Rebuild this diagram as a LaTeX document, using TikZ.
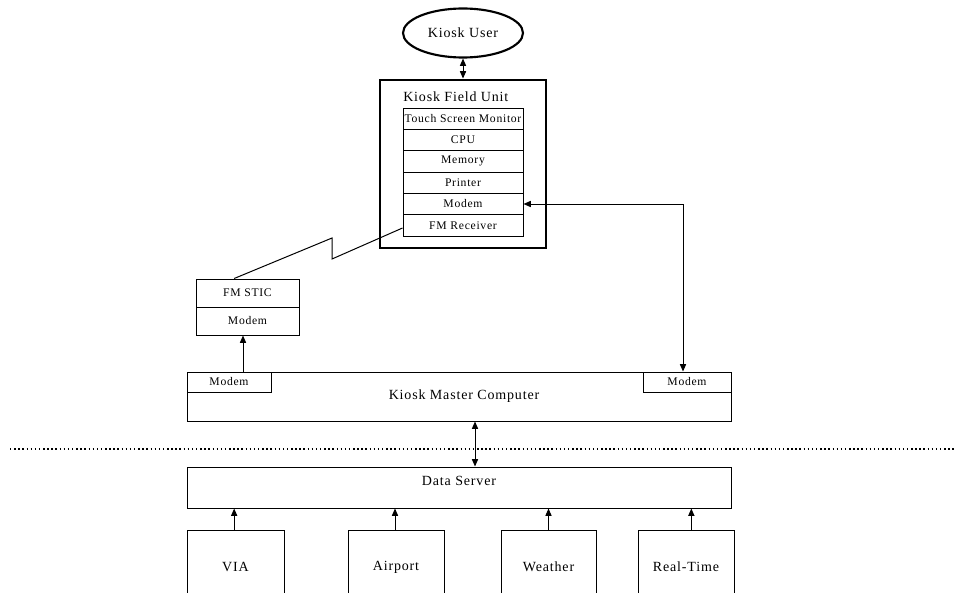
\documentclass[tikz,border=0pt]{standalone}
\usepackage{fontspec}
\setmainfont{Liberation Serif}[LetterSpace=6]
\usetikzlibrary{shapes.geometric,arrows.meta}
\newcommand\mybox[7]{\node[#7, minimum width={(#4-#2)*0.75pt}, minimum height={(#5-#3)*0.75pt}] (#1) at ({(#2+#4)/2},{(#3+#5)/2}) {#6};}
\tikzset{
  bx/.style={draw, line width=0.75pt, inner sep=0pt, rectangle},
  bigf/.style={font=\fontsize{10.5}{12}\selectfont},
  smallf/.style={font=\fontsize{8.75}{10}\selectfont},
  con/.style={line width=0.75pt},
  tip/.style={-{Triangle[length=5.5pt,width=4.6pt]}},
  dtip/.style={{Triangle[length=5.5pt,width=4.6pt]}-{Triangle[length=5.5pt,width=4.6pt]}},
}
\begin{document}
\begin{tikzpicture}[x=0.75pt,y=-0.75pt]
\clip (0,0) rectangle (959,592);
\useasboundingbox (0,0) rectangle (959,592);
% Kiosk User
\node[draw, ellipse, line width=1.6pt, minimum width=120*0.75pt, minimum height=49*0.75pt, inner sep=0pt, bigf] (user) at (463,33) {Kiosk User};
% Field unit
\mybox{fu}{380}{80}{546}{248}{}{draw, line width=2.2pt, inner sep=0pt}
\node[bigf, anchor=west, inner sep=0pt] (futitle) at (403,97) {Kiosk Field Unit};
\mybox{r1}{403}{108}{523}{129.33}{Touch Screen Monitor}{bx,smallf}
\mybox{r2}{403}{129.33}{523}{150.67}{CPU}{bx,smallf}
\mybox{r3}{403}{150.67}{523}{172}{Memory}{bx,smallf}
\mybox{r4}{403}{172}{523}{193.33}{Printer}{bx,smallf}
\mybox{r5}{403}{193.33}{523}{214.67}{Modem}{bx,smallf}
\mybox{r6}{403}{214.67}{523}{236}{FM Receiver}{bx,smallf}
% FM STIC
\mybox{fms}{196}{279}{299}{307}{FM STIC}{bx,smallf}
\mybox{fmm}{196}{307}{299}{335}{Modem}{bx,smallf}
% Kiosk master computer
\mybox{kmc}{187}{372}{731}{421}{}{bx}
\node[bigf, inner sep=0pt] (kmctext) at (464,396) {Kiosk Master Computer};
\mybox{lm}{187}{372}{271}{392}{Modem}{bx,smallf}
\mybox{rm}{643}{372}{731}{392}{Modem}{bx,smallf}
% Data server
\mybox{ds}{187}{467}{731}{508}{}{bx}
\node[bigf, inner sep=0pt] (dstext) at (459,481) {Data Server};
% Sources
\mybox{via}{187}{530}{284}{604}{VIA}{bx,bigf}
\mybox{air}{348}{530}{444}{604}{Airport}{bx,bigf}
\mybox{wea}{501}{530}{596}{604}{Weather}{bx,bigf}
\mybox{rt}{638}{530}{734}{604}{Real-Time}{bx,bigf}
% connectors
\draw[con,dtip] (user) -- (fu.north -| user);
\draw[con,dtip] (r5.east) -| ([xshift=-3pt]rm.north);
\coordinate (z1) at (332,238);
\coordinate (z2) at (332,259);
\draw[con] ([xshift=-10pt]fms.north) -- (z1) -- (z2) -- ([yshift=-2pt]r6.west);
\draw[con,tip] ([xshift=10.5pt]lm.north) -- ([xshift=10.5pt]lm.north |- fmm.south);
\draw[con,dtip] ([xshift=12pt]kmc.south) -- ([xshift=12pt]kmc.south |- ds.north);
\draw[con,tip] ([xshift=-1pt]via.north) -- ([xshift=-1pt]via.north |- ds.south);
\draw[con,tip] ([xshift=-0.75pt]air.north) -- ([xshift=-0.75pt]air.north |- ds.south);
\draw[con,tip] (wea.north) -- (wea.north |- ds.south);
\draw[con,tip] ([xshift=4pt]rt.north) -- ([xshift=4pt]rt.north |- ds.south);
% dotted separator
\coordinate (dl) at (10,449);
\coordinate (dr) at (955,449);
\draw[line width=1.1pt, dash pattern=on 1.1pt off 2pt] (dl) -- (dr);
\end{tikzpicture}
\end{document}
